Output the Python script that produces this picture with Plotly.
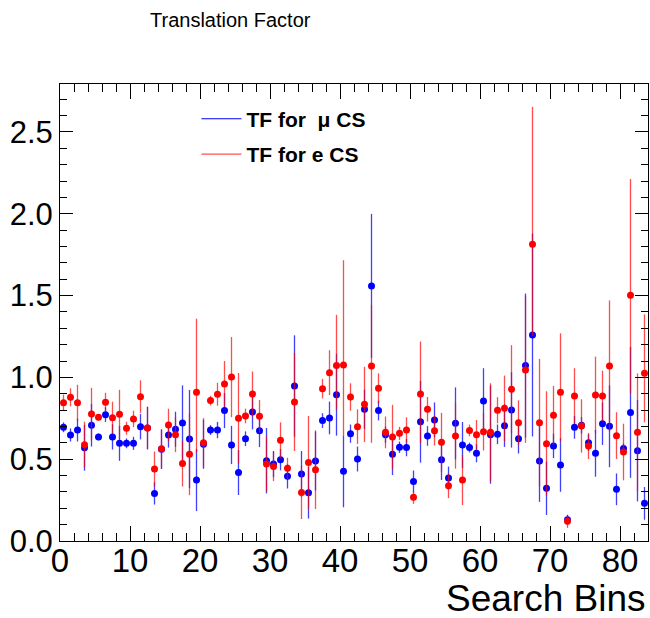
import plotly.graph_objects as go

# ---------------- data ----------------
bins = [i + 0.5 for i in range(84)]

tf_mu = [0.695, 0.648, 0.678, 0.570, 0.707, 0.636, 0.772, 0.636, 0.597, 0.597,
         0.597, 0.699, 0.690, 0.291, 0.560, 0.648, 0.683, 0.721, 0.623, 0.373,
         0.591, 0.678, 0.678, 0.797, 0.587, 0.418, 0.625, 0.789, 0.674, 0.491,
         0.470, 0.497, 0.395, 0.947, 0.410, 0.295, 0.489, 0.736, 0.752, 0.894,
         0.426, 0.656, 0.501, 0.805, 1.559, 0.797, 0.650, 0.530, 0.573, 0.571,
         0.363, 0.729, 0.642, 0.740, 0.497, 0.385, 0.719, 0.587, 0.571, 0.536,
         0.856, 0.650, 0.652, 0.705, 0.801, 0.625, 1.072, 1.259, 0.489, 0.322,
         0.581, 0.465, 0.130, 0.695, 0.707, 0.601, 0.536, 0.717, 0.701, 0.316,
         0.566, 0.786, 0.552, 0.230]
err_mu = [0.03, 0.04, 0.07, 0.14, 0.13, 0.02, 0.045, 0.077, 0.107, 0.03,
          0.04, 0.078, 0.13, 0.068, 0.12, 0.077, 0.107, 0.23, 0.30, 0.19,
          0.15, 0.03, 0.05, 0.107, 0.117, 0.137, 0.045, 0.107, 0.10, 0.20,
          0.08, 0.065, 0.074, 0.31, 0.14, 0.158, 0.18, 0.045, 0.10, 0.25,
          0.22, 0.056, 0.076, 0.12, 0.44, 0.06, 0.05, 0.127, 0.035, 0.053,
          0.068, 0.25, 0.06, 0.107, 0.124, 0.07, 0.22, 0.14, 0.03, 0.055,
          0.20, 0.30, 0.06, 0.13, 0.23, 0.09, 0.44, 0.62, 0.25, 0.163,
          0.075, 0.164, 0.03, 0.07, 0.05, 0.05, 0.143, 0.13, 0.25, 0.097,
          0.03, 0.40, 0.31, 0.10]

tf_e = [0.845, 0.878, 0.845, 0.589, 0.776, 0.756, 0.848, 0.754, 0.774, 0.689,
        0.746, 0.882, 0.691, 0.440, 0.564, 0.709, 0.650, 0.473, 0.530, 0.909,
        0.601, 0.858, 0.897, 0.960, 1.002, 0.750, 0.764, 0.899, 0.762, 0.471,
        0.456, 0.615, 0.444, 0.850, 0.297, 0.479, 0.436, 0.931, 1.029, 1.072,
        1.076, 0.880, 0.699, 0.835, 1.070, 0.933, 0.664, 0.636, 0.658, 0.678,
        0.267, 0.899, 0.805, 0.674, 0.603, 0.338, 0.642, 0.373, 0.676, 0.650,
        0.668, 0.664, 0.799, 0.811, 0.927, 0.723, 1.045, 1.813, 0.723, 0.595,
        0.768, 0.909, 0.120, 0.886, 0.703, 0.581, 0.892, 0.886, 1.070, 0.644,
        0.544, 1.502, 0.664, 1.025]
err_e_up = [0.05, 0.055, 0.11, 0.14, 0.16, 0.02, 0.058, 0.097, 0.15, 0.04,
            0.05, 0.10, 0.13, 0.107, 0.12, 0.10, 0.107, 0.14, 0.25, 0.45,
            0.15, 0.03, 0.07, 0.14, 0.245, 0.277, 0.045, 0.137, 0.10, 0.168,
            0.09, 0.11, 0.065, 0.30, 0.163, 0.285, 0.24, 0.06, 0.137, 0.31,
            0.64, 0.084, 0.106, 0.23, 0.37, 0.092, 0.097, 0.196, 0.04, 0.078,
            0.04, 0.32, 0.075, 0.09, 0.18, 0.076, 0.20, 0.153, 0.036, 0.09,
            0.115, 0.30, 0.08, 0.20, 0.27, 0.137, 0.45, 0.84, 0.39, 0.32,
            0.18, 0.36, 0.04, 0.17, 0.163, 0.08, 0.235, 0.155, 0.40, 0.143,
            0.173, 0.71, 0.36, 0.36]
err_e_dn = [0.05, 0.055, 0.11, 0.14, 0.16, 0.02, 0.058, 0.097, 0.15, 0.04,
            0.05, 0.10, 0.13, 0.107, 0.12, 0.10, 0.107, 0.14, 0.25, 0.37,
            0.15, 0.03, 0.07, 0.14, 0.245, 0.277, 0.045, 0.137, 0.10, 0.168,
            0.09, 0.11, 0.065, 0.30, 0.163, 0.285, 0.24, 0.06, 0.137, 0.27,
            0.43, 0.084, 0.106, 0.23, 0.47, 0.092, 0.097, 0.196, 0.04, 0.078,
            0.04, 0.30, 0.075, 0.09, 0.18, 0.076, 0.20, 0.153, 0.036, 0.09,
            0.115, 0.30, 0.08, 0.20, 0.27, 0.137, 0.445, 0.56, 0.39, 0.32,
            0.18, 0.30, 0.04, 0.17, 0.163, 0.08, 0.235, 0.155, 0.40, 0.143,
            0.173, 0.60, 0.36, 0.30]

y_tick_vals = [0.0, 0.5, 1.0, 1.5, 2.0, 2.5]
y_tick_text = ["0.0", "0.5", "1.0", "1.5", "2.0", "2.5"]
x_tick_vals = [0, 10, 20, 30, 40, 50, 60, 70, 80]

FONT = "Liberation Sans, Arial, Helvetica, sans-serif"
BLUE = "#0000ff"
RED = "#ff0000"

fig = go.Figure()

fig.add_trace(go.Scatter(
    x=bins, y=tf_mu, mode="markers", showlegend=False,
    marker=dict(color=BLUE, size=7, line=dict(width=0)),
    error_y=dict(type="data", array=err_mu, width=0, thickness=1.3,
                 color="rgba(0,0,255,0.75)"),
))
fig.add_trace(go.Scatter(
    x=bins, y=tf_e, mode="markers", showlegend=False,
    marker=dict(color=RED, size=7, line=dict(width=0)),
    error_y=dict(type="data", symmetric=False, array=err_e_up,
                 arrayminus=err_e_dn, width=0, thickness=1.3,
                 color="rgba(255,0,0,0.7)"),
))

# legend entries (line style, like ROOT "l" option)
fig.add_trace(go.Scatter(x=[None], y=[None], mode="lines",
                         line=dict(color=BLUE, width=1.2),
                         name="<b>TF for \u00a0\u03bc CS</b>", legendgroup="a"))
fig.add_trace(go.Scatter(x=[None], y=[None], mode="lines",
                         line=dict(color="rgba(255,60,60,0.9)", width=1.2),
                         name="<b>TF for e CS</b>", legendgroup="b"))

fig.update_layout(
    width=650, height=618,
    margin=dict(l=60, r=2, t=84, b=77),
    paper_bgcolor="white", plot_bgcolor="white",
    font=dict(family=FONT, color="black"),
    title=dict(text="Translation Factor", font=dict(size=20, family=FONT, color="black"),
               x=150 / 650, xanchor="left", xref="container",
               y=1 - 20 / 618, yanchor="middle", yref="container"),
    showlegend=True,
    legend=dict(x=0.232, y=0.968, xanchor="left", yanchor="top",
                bgcolor="rgba(0,0,0,0)", font=dict(size=21, family=FONT),
                traceorder="grouped", tracegroupgap=5, itemwidth=40),
    xaxis=dict(range=[0, 84], tickvals=x_tick_vals, ticks="inside", ticklen=15,
               tickwidth=1, tickcolor="black", showline=True, linecolor="black",
               linewidth=1, mirror="allticks", showgrid=False, zeroline=False,
               tickfont=dict(size=33, family=FONT), ticklabelstandoff=-10,
               minor=dict(dtick=2, ticks="inside", ticklen=8, tickcolor="black",
                          showgrid=False)),
    yaxis=dict(range=[0, 2.793], tickvals=y_tick_vals, ticktext=y_tick_text,
               ticks="inside", ticklen=13, tickwidth=1, tickcolor="black",
               showline=True, linecolor="black", linewidth=1, mirror="allticks",
               showgrid=False, zeroline=False, tickfont=dict(size=31, family=FONT),
               minor=dict(dtick=0.1, ticks="inside", ticklen=7, tickcolor="black",
                          showgrid=False)),
    annotations=[dict(text="Search Bins", xref="paper", yref="paper", x=1.0,
                      y=-0.125, xanchor="right", yanchor="middle", showarrow=False,
                      font=dict(size=37, family=FONT, color="black"))],
)

fig.write_html("out.html")
